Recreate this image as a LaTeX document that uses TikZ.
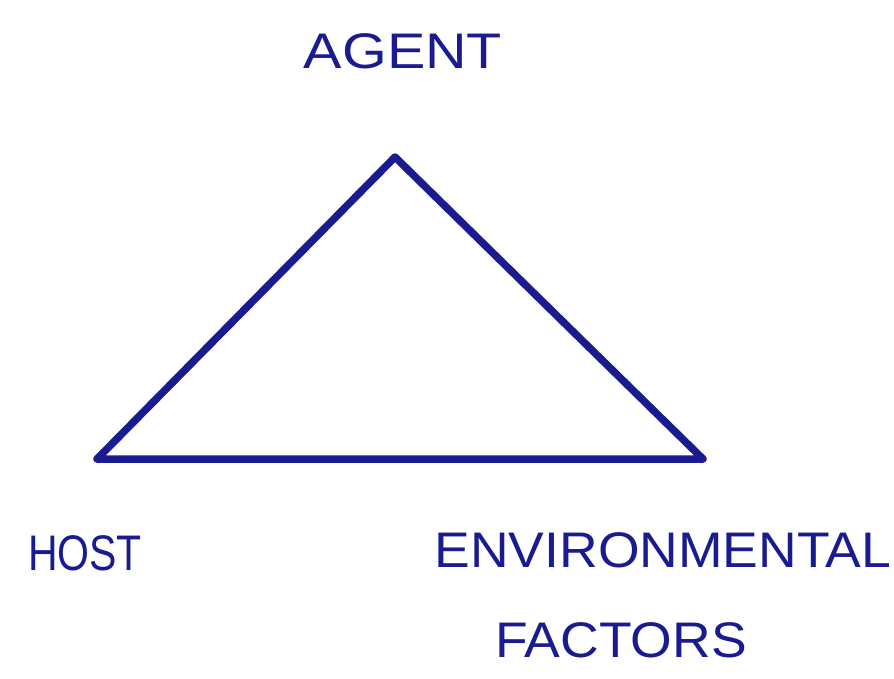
\documentclass[tikz,border=0pt]{standalone}
\usepackage{fontspec}
\setmainfont{Liberation Sans}
\definecolor{ink}{RGB}{26,26,145}
\begin{document}
\begin{tikzpicture}[x=1pt,y=-1pt,
  edge/.style={draw=ink,line width=7.5pt,line join=round,line cap=round},
  lbl/.style={text=ink,inner sep=0pt,font=\fontsize{50}{50}\selectfont}]
\useasboundingbox[fill=white] (0,0) rectangle (894,678);
% corners of the triangle
\coordinate (agentpt) at (395,157);
\coordinate (hostpt) at (97,459);
\coordinate (envpt) at (703,459);
\draw[edge] (agentpt) -- (hostpt) -- (envpt) -- cycle;
% labels
\node[lbl,xscale=1.15] (agent) at (403,51) {AGENT};
\node[lbl,xscale=0.82] (host) at (85,553) {HOST};
\node[lbl,xscale=1.07] (env) at (663,550) {ENVIRONMENTAL};
\node[lbl,xscale=1.07] (factors) at (621,640) {FACTORS};
\end{tikzpicture}
\end{document}
